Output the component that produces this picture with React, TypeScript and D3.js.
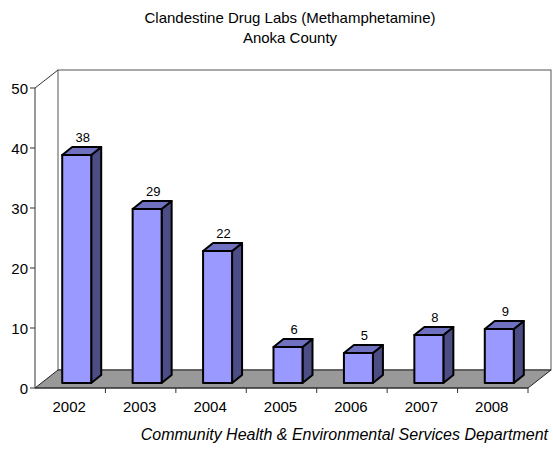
import { useEffect, useRef } from 'react'
import * as d3 from 'd3'

const years = ['2002', '2003', '2004', '2005', '2006', '2007', '2008']
const labs = [38, 29, 22, 6, 5, 8, 9]
const yTicks = [0, 10, 20, 30, 40, 50]

const W = 553
const H = 450

export default function App() {
  const svgRef = useRef<SVGSVGElement>(null)

  useEffect(() => {
    if (!svgRef.current) return
    const svg = d3.select(svgRef.current)
    svg.selectAll('*').remove()

    const font = 'Liberation Sans, Arial, sans-serif'
    const left = 35
    const right = 528
    const x = d3.scaleBand<string>().domain(years).range([left, right])
    const y = d3.scaleLinear().domain([0, 50]).range([388, 88])

    // depth of the floor / wall and of each bar
    const fdx = 23, fdy = -18
    const bdx = 10, bdy = -8
    const barW = 29

    // back wall
    svg.append('rect')
      .attr('x', left + fdx).attr('y', y(50) + fdy)
      .attr('width', right - left).attr('height', y(0) - y(50))
      .attr('fill', 'none').attr('stroke', '#555').attr('stroke-width', 1)
    // side wall edge
    svg.append('line')
      .attr('x1', left).attr('y1', y(50)).attr('x2', left + fdx).attr('y2', y(50) + fdy)
      .attr('stroke', '#333')

    // floor
    const floor = [
      [left, y(0)], [right, y(0)], [right + fdx, y(0) + fdy], [left + fdx, y(0) + fdy]
    ]
    svg.append('path')
      .attr('d', d3.line()(floor as [number, number][]) + 'Z')
      .attr('fill', '#999999').attr('stroke', '#222').attr('stroke-width', 1)

    // bars
    years.forEach((yr, i) => {
      const v = labs[i]
      const cx = x(yr)! + x.bandwidth() / 2 + fdx / 2 - bdx / 2
      const x0 = cx - barW / 2
      const x1 = cx + barW / 2
      const yb = y(0) + fdy / 2 - bdy / 2
      const yt = yb - (y(0) - y(v))
      const g = svg.append('g')
        .attr('stroke', '#000').attr('stroke-width', 2).attr('stroke-linejoin', 'round')
      // side
      g.append('path')
        .attr('d', `M${x1},${yb}L${x1 + bdx},${yb + bdy}L${x1 + bdx},${yt + bdy}L${x1},${yt}Z`)
        .attr('fill', '#4d4d86')
      // top
      g.append('path')
        .attr('d', `M${x0},${yt}L${x0 + bdx},${yt + bdy}L${x1 + bdx},${yt + bdy}L${x1},${yt}Z`)
        .attr('fill', '#7070c0')
      // front
      g.append('rect')
        .attr('x', x0).attr('y', yt).attr('width', barW).attr('height', yb - yt)
        .attr('fill', '#9999ff')
      // value label
      svg.append('text')
        .attr('x', cx + bdx / 2 + 1).attr('y', yt + bdy - 5)
        .attr('text-anchor', 'middle')
        .attr('font-family', font).attr('font-size', 13)
        .text(v)
    })

    // y axis
    svg.append('line')
      .attr('x1', left).attr('y1', y(0)).attr('x2', left).attr('y2', y(50))
      .attr('stroke', '#333')
    yTicks.forEach(t => {
      svg.append('line')
        .attr('x1', left - 5).attr('x2', left).attr('y1', y(t)).attr('y2', y(t))
        .attr('stroke', '#333')
      svg.append('text')
        .attr('x', left - 7).attr('y', y(t) + 5.5)
        .attr('text-anchor', 'end')
        .attr('font-family', font).attr('font-size', 15)
        .text(t)
    })

    // x axis
    svg.append('line')
      .attr('x1', left).attr('x2', right).attr('y1', y(0)).attr('y2', y(0))
      .attr('stroke', '#333')
    years.forEach((yr, i) => {
      const bx = x(yr)!
      if (i > 0) {
        svg.append('line')
          .attr('x1', bx).attr('x2', bx).attr('y1', y(0)).attr('y2', y(0) + 5)
          .attr('stroke', '#333')
      }
      svg.append('text')
        .attr('x', bx + x.bandwidth() / 2 - 1).attr('y', y(0) + 24)
        .attr('text-anchor', 'middle')
        .attr('font-family', font).attr('font-size', 15)
        .text(yr)
    })
    svg.append('line')
      .attr('x1', right).attr('x2', right).attr('y1', y(0)).attr('y2', y(0) + 5)
      .attr('stroke', '#333')

    // titles
    svg.append('text')
      .attr('x', 290).attr('y', 23)
      .attr('text-anchor', 'middle')
      .attr('font-family', font).attr('font-size', 15)
      .text('Clandestine Drug Labs (Methamphetamine)')
    svg.append('text')
      .attr('x', 290).attr('y', 43)
      .attr('text-anchor', 'middle')
      .attr('font-family', font).attr('font-size', 15)
      .text('Anoka County')
    svg.append('text')
      .attr('x', 548).attr('y', 440)
      .attr('text-anchor', 'end')
      .attr('font-family', font).attr('font-size', 16).attr('font-style', 'italic')
      .text('Community Health & Environmental Services Department')
  }, [])

  return (
    <svg ref={svgRef} width={W} height={H}
      style={{ position: 'absolute', left: 0, top: 0, background: '#fff' }} />
  )
}
